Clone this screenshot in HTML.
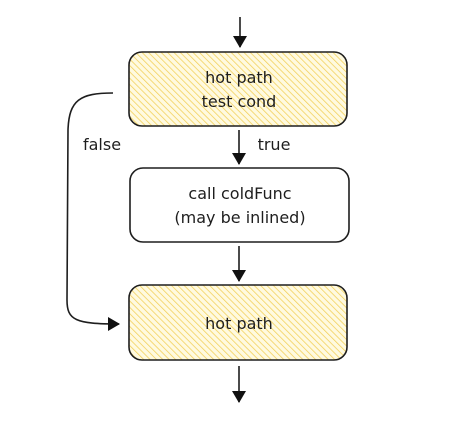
<!DOCTYPE html>
<html><head><style>body{margin:0;background:#fff}svg{display:block}</style></head><body>
<svg width="450" height="424" viewBox="0 0 450 424" xmlns="http://www.w3.org/2000/svg">
<defs>
<pattern id="h" width="4.5" height="4.5" patternUnits="userSpaceOnUse" patternTransform="rotate(-45)">
<rect width="4.5" height="4.5" fill="#fffae0"/>
<line x1="0" y1="0" x2="0" y2="4.5" stroke="#f2cf55" stroke-width="1.5"/>
</pattern>
<marker id="a" markerWidth="12" markerHeight="14" refX="11" refY="7" orient="auto" markerUnits="userSpaceOnUse">
<path d="M0,0 L12,7 L0,14 Z" fill="#111"/>
</marker>
</defs>
<g stroke="#1e1e1e" stroke-width="1.6" fill="none">
<rect x="129" y="52" width="218" height="74" rx="13" fill="url(#h)"/>
<rect x="130" y="168" width="219" height="74" rx="13" fill="#fff"/>
<rect x="129" y="285" width="218" height="75" rx="13" fill="url(#h)"/>
<line x1="240" y1="17" x2="240" y2="47" marker-end="url(#a)"/>
<line x1="239" y1="130" x2="239" y2="164" marker-end="url(#a)"/>
<line x1="239" y1="246" x2="239" y2="281" marker-end="url(#a)"/>
<line x1="239" y1="366" x2="239" y2="402" marker-end="url(#a)"/>
<path d="M113,93 C80,93 69,100 68,130 L67,300 C67,320 75,324 119,324" marker-end="url(#a)"/>
</g>
<g font-family="'Comic Sans MS','DejaVu Sans',sans-serif" font-size="16" fill="#1e1e1e" text-anchor="middle">
<text x="239" y="83">hot path</text>
<text x="239" y="107">test cond</text>
<text x="240" y="199">call coldFunc</text>
<text x="240" y="223">(may be inlined)</text>
<text x="239" y="329">hot path</text>
<text x="274" y="150">true</text>
<text x="102" y="150">false</text>
</g>
</svg>
</body></html>
